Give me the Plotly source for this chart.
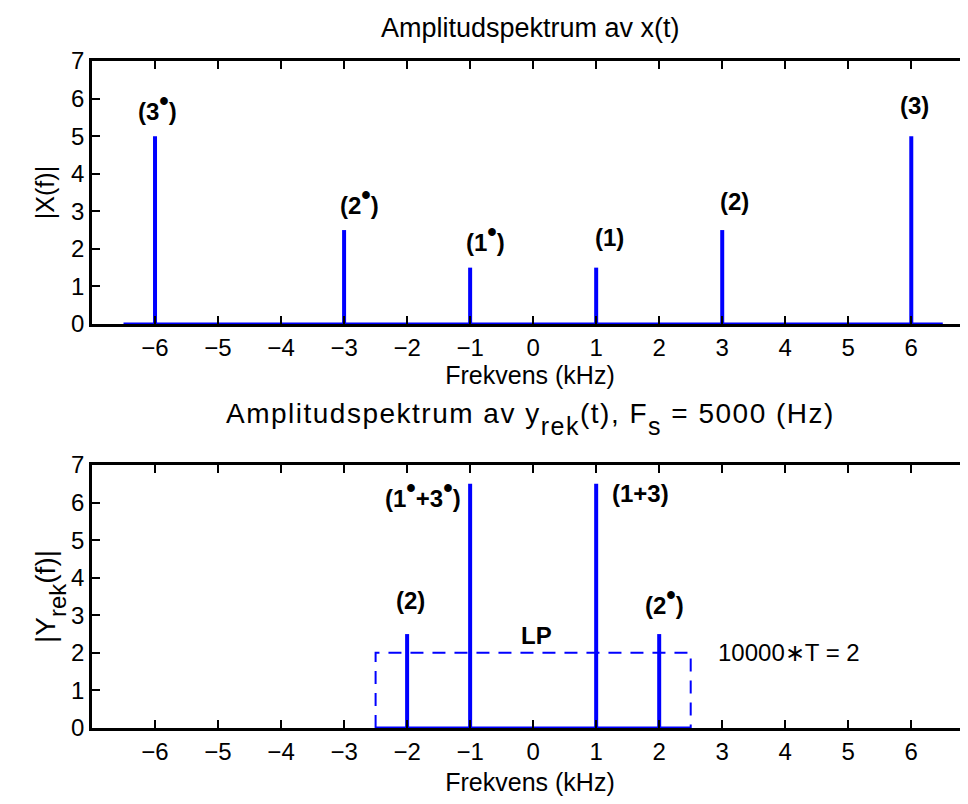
import plotly.graph_objects as go
from plotly.subplots import make_subplots

# ---- data ----
top_freq = [-6, -3, -1, 1, 3, 6]
top_amp = [5, 2.5, 1.5, 1.5, 2.5, 5]
top_labels = ["(3{b})", "(2{b})", "(1{b})", "(1)", "(2)", "(3)"]
top_label_x = [-5.96, -2.76, -0.76, 1.21, 3.19, 6.05]
top_label_y = [5.25, 2.73, 1.75, 1.88, 2.86, 5.39]   # bottom of label

bot_freq = [-2, -1, 1, 2]
bot_amp = [2.5, 6.5, 6.5, 2.5]
bot_labels = ["(2)", "(1{b}+3{b})", "(1+3)", "(2{b})"]
bot_label_x = [-1.94, -1.74, 1.71, 2.09]
bot_label_y = [2.98, 5.69, 5.83, 2.84]   # bottom of label

top_base = [-6.5, 6.5]
lp_x = [-2.5, -2.5, 2.5, 2.5]
lp_y = [0, 2, 2, 0]
lp_base = [-2.5, 2.5]
lp_label = "LP"
lp_label_pos = (0.05, 2.05)
note_text = "10000∗T = 2"
note_pos = (2.9, 2.0)

xticks = list(range(-6, 7))
yticks = list(range(0, 8))

BLUE = "rgb(0,0,255)"
FONT = "Liberation Sans, Arial, Helvetica, sans-serif"
BUL = '<sup><span style="font-size:27px">•</span></sup>'


def sub(s, px, shift):
    return ('<sub><span style="font-size:%dpx;baseline-shift:-%dpx">%s</span></sub>'
            % (px, shift, s))


W, H = 960, 788   # page body has an 8px margin
OFF = 8


def py(screen_y):
    """screen pixel -> paper fraction"""
    return 1 - (screen_y - OFF) / H


def stems(xs, ys):
    sx, sy = [], []
    for x, y in zip(xs, ys):
        sx += [x, x, None]
        sy += [0, y, None]
    return sx, sy


fig = make_subplots(rows=2, cols=1)

fig.add_trace(go.Scatter(x=top_base, y=[0, 0], mode="lines",
                         line=dict(color=BLUE, width=3), hoverinfo="skip"), row=1, col=1)
sx, sy = stems(top_freq, top_amp)
fig.add_trace(go.Scatter(x=sx, y=sy, mode="lines",
                         line=dict(color=BLUE, width=4)), row=1, col=1)

fig.add_trace(go.Scatter(x=lp_base, y=[0, 0], mode="lines",
                         line=dict(color=BLUE, width=3), hoverinfo="skip"), row=2, col=1)
fig.add_trace(go.Scatter(x=lp_x, y=lp_y, mode="lines",
                         line=dict(color=BLUE, width=2, dash="13px,9px")), row=2, col=1)
sx, sy = stems(bot_freq, bot_amp)
fig.add_trace(go.Scatter(x=sx, y=sy, mode="lines",
                         line=dict(color=BLUE, width=4)), row=2, col=1)

LBL = dict(size=24, color="black", family=FONT)
annotations = []
for t, x, y in zip(top_labels, top_label_x, top_label_y):
    annotations.append(dict(x=x, y=y, xref="x", yref="y", yanchor="bottom",
                            text="<b>" + t.format(b=BUL) + "</b>",
                            showarrow=False, font=LBL))
for t, x, y in zip(bot_labels, bot_label_x, bot_label_y):
    annotations.append(dict(x=x, y=y, xref="x2", yref="y2", yanchor="bottom",
                            text="<b>" + t.format(b=BUL) + "</b>",
                            showarrow=False, font=LBL))
annotations.append(dict(x=lp_label_pos[0], y=lp_label_pos[1], xref="x2", yref="y2",
                        yanchor="bottom",
                        text="<b>" + lp_label + "</b>", showarrow=False, font=LBL))
annotations.append(dict(x=note_pos[0], y=note_pos[1], xref="x2", yref="y2",
                        text=note_text, showarrow=False, xanchor="left", yanchor="middle",
                        font=dict(size=24, color="black", family=FONT)))
annotations.append(dict(x=0.5, y=py(28), xref="x domain", yref="paper",
                        xanchor="center", yanchor="middle",
                        text="Amplitudspektrum av x(t)", showarrow=False,
                        font=dict(size=27, color="black", family=FONT)))
bottom_title = ('<span style="letter-spacing:1.5px">Amplitudspektrum av y' + sub("rek", 25, 6)
                + "(t), F" + sub("s", 25, 6) + " = 5000 (Hz)</span>")
annotations.append(dict(x=0.5, y=py(419), xref="x domain", yref="paper",
                        xanchor="center", yanchor="middle",
                        text=bottom_title,
                        showarrow=False, font=dict(size=28, color="black", family=FONT)))

axis_common = dict(showline=True, linecolor="black", linewidth=2.5, mirror="ticks",
                   ticks="inside", ticklen=8, tickwidth=1.5, tickcolor="black",
                   showgrid=False, zeroline=False, automargin=False,
                   tickfont=dict(size=24, color="black", family=FONT))

fig.update_xaxes(range=[-7, 6.9], tickvals=xticks, **axis_common)
fig.update_yaxes(range=[0, 7], tickvals=yticks, **axis_common)

fig.update_xaxes(title=dict(text="Frekvens (kHz)", standoff=7,
                            font=dict(size=25, color="black", family=FONT)), row=1, col=1)
fig.update_xaxes(title=dict(text="Frekvens (kHz)", standoff=21,
                            font=dict(size=25, color="black", family=FONT)), row=2, col=1)
fig.update_yaxes(title=dict(text="|X(f)|", standoff=10,
                            font=dict(size=25, color="black", family=FONT)), row=1, col=1)
fig.update_yaxes(title=dict(text="|Y" + sub("rek", 24, 5) + "(f)|", standoff=6,
                            font=dict(size=28, color="black", family=FONT)), row=2, col=1)

fig.update_layout(
    width=W, height=H, autosize=False,
    margin=dict(l=92 - OFF, r=0, t=0, b=0, pad=0),
    plot_bgcolor="white", paper_bgcolor="white",
    showlegend=False,
    annotations=annotations,
    xaxis=dict(domain=[0, 1]),
    xaxis2=dict(domain=[0, 1]),
    yaxis=dict(domain=[py(324), py(61)]),
    yaxis2=dict(domain=[py(728), py(465)]),
    font=dict(family=FONT, color="black"),
)

fig.write_html("out.html")
